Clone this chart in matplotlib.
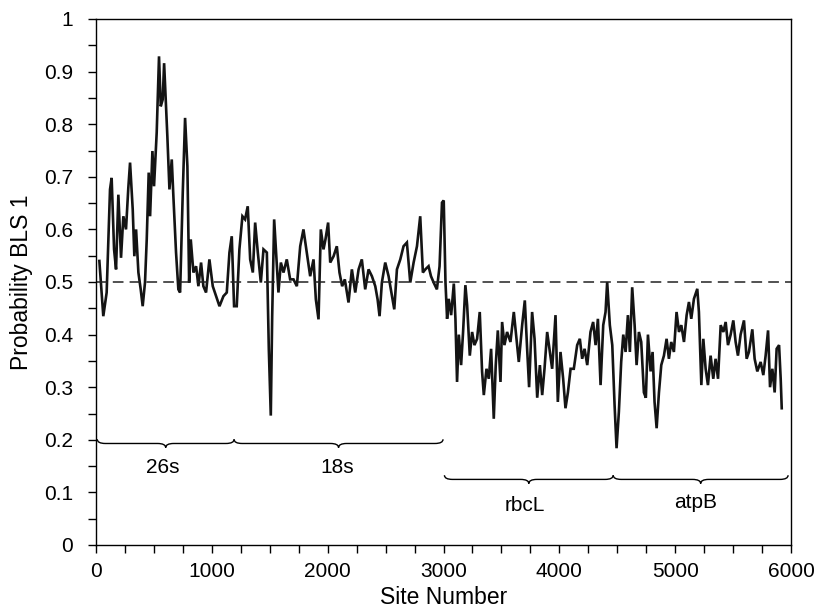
import numpy as np
import matplotlib.pyplot as plt
from matplotlib.path import Path
from matplotlib.patches import PathPatch
from matplotlib.ticker import MultipleLocator, FuncFormatter

plt.rcParams['font.family'] = ['Liberation Sans', 'DejaVu Sans']

#######################################################
# trace (site, probability)
Site = [29, 63, 92, 121, 135, 156, 173, 193, 216, 236, 259, 279, 294, 317, 331, 346,
        366, 386, 403, 423, 438, 455, 467, 487, 501, 524, 544, 559, 576, 588, 605, 616,
        634, 654, 668, 691, 711, 726, 749, 769, 789, 804, 818, 841, 864, 884, 907, 927,
        950, 979, 1008, 1037, 1066, 1100, 1129, 1152, 1172, 1192, 1215, 1238, 1264, 1287,
        1310, 1331, 1354, 1374, 1397, 1423, 1446, 1475, 1492, 1509, 1521, 1538, 1555, 1575,
        1596, 1619, 1647, 1676, 1705, 1734, 1763, 1791, 1820, 1849, 1878, 1898, 1921, 1941,
        1964, 1981, 2004, 2022, 2051, 2079, 2102, 2125, 2148, 2180, 2209, 2238, 2267, 2295,
        2324, 2353, 2382, 2411, 2431, 2448, 2468, 2497, 2526, 2555, 2575, 2598, 2627, 2655,
        2684, 2713, 2742, 2771, 2799, 2822, 2843, 2871, 2892, 2915, 2943, 2966, 2987,
        3002, 3017, 3031, 3045, 3066, 3089, 3103, 3117, 3132, 3152, 3169, 3189, 3204, 3227,
        3247, 3267, 3290, 3313, 3333, 3348, 3371, 3391, 3411, 3434, 3451, 3469, 3492, 3506,
        3526, 3549, 3578, 3607, 3630, 3650, 3679, 3702, 3722, 3739, 3765, 3786, 3809, 3832,
        3852, 3872, 3895, 3918, 3938, 3967, 3987, 4010, 4033, 4053, 4074, 4097, 4125, 4154,
        4177, 4197, 4218, 4241, 4269, 4292, 4313, 4333, 4356, 4379, 4399, 4413, 4436, 4457,
        4477, 4494, 4514, 4534, 4552, 4572, 4592, 4609, 4629, 4650, 4667, 4687, 4707, 4730,
        4747, 4765, 4788, 4805, 4822, 4840, 4860, 4880, 4903, 4926, 4946, 4966, 4989, 5012,
        5033, 5053, 5076, 5099, 5119, 5139, 5162, 5191, 5205, 5226, 5243, 5263, 5283, 5306,
        5329, 5349, 5370, 5393, 5416, 5436, 5456, 5479, 5502, 5522, 5542, 5565, 5594, 5617,
        5637, 5666, 5686, 5709, 5738, 5761, 5781, 5802, 5819, 5839, 5859, 5876, 5897, 5911,
        5920]
Prob = [0.540, 0.435, 0.480, 0.676, 0.698, 0.562, 0.524, 0.666, 0.546, 0.625, 0.600, 0.679,
        0.727, 0.638, 0.549, 0.600, 0.518, 0.486, 0.454, 0.499, 0.581, 0.708, 0.625, 0.749,
        0.682, 0.784, 0.929, 0.834, 0.847, 0.916, 0.834, 0.777, 0.676, 0.733, 0.663, 0.556,
        0.486, 0.480, 0.670, 0.812, 0.720, 0.499, 0.581, 0.518, 0.530, 0.492, 0.537, 0.492,
        0.480, 0.543, 0.492, 0.473, 0.454, 0.473, 0.480, 0.556, 0.587, 0.454, 0.454, 0.562,
        0.625, 0.619, 0.644, 0.543, 0.518, 0.613, 0.556, 0.499, 0.562, 0.556, 0.372, 0.246,
        0.435, 0.619, 0.556, 0.480, 0.537, 0.518, 0.543, 0.505, 0.505, 0.492, 0.568, 0.600,
        0.556, 0.511, 0.543, 0.467, 0.429, 0.600, 0.562, 0.581, 0.613, 0.537, 0.549, 0.568,
        0.518, 0.492, 0.505, 0.461, 0.524, 0.480, 0.524, 0.543, 0.486, 0.524, 0.511, 0.492,
        0.467, 0.435, 0.499, 0.537, 0.511, 0.473, 0.448, 0.524, 0.543, 0.568, 0.575, 0.499,
        0.537, 0.568, 0.625, 0.518, 0.524, 0.530, 0.511, 0.499, 0.486, 0.530, 0.651,
        0.655, 0.500, 0.430, 0.468, 0.437, 0.497, 0.430, 0.310, 0.400, 0.342, 0.405, 0.494,
        0.456, 0.360, 0.405, 0.380, 0.392, 0.443, 0.330, 0.285, 0.335, 0.316, 0.373, 0.240,
        0.342, 0.408, 0.310, 0.424, 0.380, 0.405, 0.386, 0.443, 0.392, 0.348, 0.418, 0.465,
        0.373, 0.300, 0.443, 0.392, 0.280, 0.342, 0.285, 0.335, 0.405, 0.367, 0.335, 0.437,
        0.272, 0.367, 0.316, 0.260, 0.290, 0.335, 0.335, 0.380, 0.392, 0.354, 0.373, 0.342,
        0.405, 0.424, 0.380, 0.430, 0.304, 0.418, 0.443, 0.500, 0.418, 0.380, 0.266, 0.184,
        0.253, 0.348, 0.400, 0.367, 0.437, 0.367, 0.490, 0.418, 0.342, 0.405, 0.386, 0.290,
        0.280, 0.400, 0.330, 0.367, 0.272, 0.222, 0.290, 0.342, 0.360, 0.392, 0.354, 0.386,
        0.367, 0.443, 0.405, 0.418, 0.386, 0.437, 0.462, 0.430, 0.468, 0.487, 0.443, 0.304,
        0.392, 0.335, 0.304, 0.360, 0.316, 0.354, 0.316, 0.418, 0.405, 0.424, 0.380, 0.400,
        0.427, 0.386, 0.360, 0.400, 0.427, 0.354, 0.367, 0.410, 0.354, 0.330, 0.348, 0.323,
        0.360, 0.408, 0.300, 0.335, 0.290, 0.373, 0.380, 0.316, 0.260]

Threshold = 0.5

# gene regions marked with braces
Region_Names  = ['26s', '18s', 'rbcL', 'atpB']
Region_Start  = [11, 1192, 3008, 4465]
Region_End    = [1192, 2996, 4465, 5975]
Region_Level  = [0.193, 0.193, 0.1247, 0.1247]
Label_X       = [576, 2080, 3703, 5177]
Label_Y       = [0.136, 0.136, 0.065, 0.070]
#######################################################


def brace(ax, x0, x1, y, tip=0.008, dip=0.008, r=70):
    xm = (x0 + x1) / 2.0
    verts = [(x0, y + tip), (x0, y), (x0 + r, y),
             (xm - r, y), (xm, y), (xm, y - dip),
             (xm, y), (xm + r, y),
             (x1 - r, y), (x1, y), (x1, y + tip)]
    codes = [Path.MOVETO, Path.CURVE3, Path.CURVE3,
             Path.LINETO, Path.CURVE3, Path.CURVE3,
             Path.CURVE3, Path.CURVE3,
             Path.LINETO, Path.CURVE3, Path.CURVE3]
    ax.add_patch(PathPatch(Path(verts, codes), fill=False, lw=1.0, color='black'))


fig = plt.figure(figsize=(8.14, 6.11), dpi=100)
ax = fig.add_axes([96/814, 66/611, 695/814, 526/611])

ax.plot(Site, Prob, color='#141414', lw=1.9, solid_joinstyle='miter')
ax.axhline(Threshold, color='#222222', lw=1.1, ls=(0, (7, 4)))

for i in range(len(Region_Names)):
    brace(ax, Region_Start[i], Region_End[i], Region_Level[i])
    ax.text(Label_X[i], Label_Y[i], Region_Names[i], ha='center', va='baseline', fontsize=15)

ax.set_xlim(0, 6000)
ax.set_ylim(0, 1)
ax.xaxis.set_major_locator(MultipleLocator(1000))
ax.xaxis.set_minor_locator(MultipleLocator(250))
ax.yaxis.set_major_locator(MultipleLocator(0.1))
ax.yaxis.set_minor_locator(MultipleLocator(0.05))
ax.yaxis.set_major_formatter(FuncFormatter(lambda v, p: '%g' % round(v, 2)))
ax.tick_params(which='both', direction='out', length=5.5, width=1, top=False, right=False)
ax.tick_params(axis='x', labelsize=15, pad=6.5)
ax.tick_params(axis='y', labelsize=15, pad=11)
for s in ax.spines.values():
    s.set_linewidth(1.0)

ax.set_xlabel('Site Number', fontsize=16.5, labelpad=4)
ax.set_ylabel('Probability BLS 1', fontsize=16.5, labelpad=8)

plt.savefig('out.png')
